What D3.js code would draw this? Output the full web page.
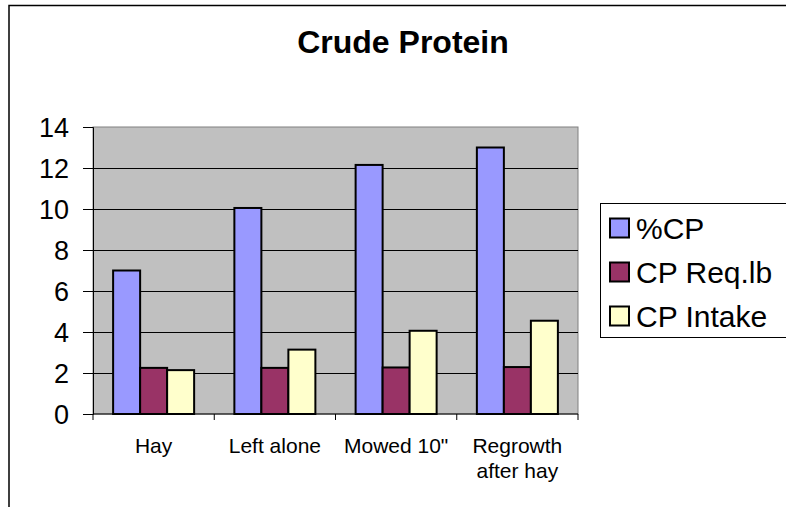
<!DOCTYPE html>
<html>
<head>
<meta charset="utf-8">
<script src="https://cdn.jsdelivr.net/npm/d3@7"></script>
<style>
  html, body { margin: 0; padding: 0; background: #fff; }
  svg { display: block; font-family: "Liberation Sans", Arial, sans-serif; }
</style>
</head>
<body>
<svg id="chart" width="786" height="507"></svg>
<script>
const categories = ["Hay", "Left alone", "Mowed 10\"", "Regrowth\nafter hay"];
const seriesNames = ["%CP", "CP Req.lb", "CP Intake"];
const pctCP = [7.0, 10.05, 12.15, 13.0];
const cpReq = [2.25, 2.25, 2.27, 2.29];
const cpIntake = [2.14, 3.14, 4.06, 4.55];
const seriesColors = ["#9999FF", "#993366", "#FFFFCC"];
const yTicks = [0, 2, 4, 6, 8, 10, 12, 14];

(function () {
const seriesValues = [pctCP, cpReq, cpIntake];
const svg = d3.select("#chart");

// outer chart border
svg.append("rect").attr("x", 9).attr("y", 5.5).attr("width", 820).attr("height", 540)
  .attr("fill", "#fff").attr("stroke", "#000").attr("stroke-width", 1.5);

// title
svg.append("text").attr("x", 403).attr("y", 53).attr("text-anchor", "middle")
  .attr("font-weight", "bold").attr("font-size", 32).text("Crude Protein");

const pL = 93, pR = 578, pT = 127, pB = 414;
const x0 = d3.scaleBand().domain(categories).range([pL, pR]).padding(0);
const x1 = d3.scaleBand().domain(seriesNames).range([0, x0.bandwidth()]).paddingInner(0).paddingOuter(0.745);
const y = d3.scaleLinear().domain([0, 14]).range([pB, pT]);

// plot background
svg.append("rect").attr("x", pL).attr("y", pT).attr("width", pR - pL).attr("height", pB - pT)
  .attr("fill", "#C0C0C0").attr("stroke", "#808080").attr("stroke-width", 1);

// gridlines
svg.append("g").selectAll("line").data(yTicks.filter(d => d > 0 && d < 14)).join("line")
  .attr("x1", pL).attr("x2", pR)
  .attr("y1", d => Math.round(y(d)) + 0.5).attr("y2", d => Math.round(y(d)) + 0.5)
  .attr("stroke", "#000").attr("stroke-width", 1);

// bars
const rows = categories.map((c, i) => ({ cat: c, vals: seriesNames.map((s, j) => ({ s, j, v: seriesValues[j][i] })) }));
const groups = svg.append("g").selectAll("g").data(rows).join("g")
  .attr("transform", d => `translate(${x0(d.cat)},0)`);
groups.selectAll("rect").data(d => d.vals).join("rect")
  .attr("x", d => x1(d.s)).attr("width", x1.bandwidth())
  .attr("y", d => y(d.v)).attr("height", d => pB - y(d.v))
  .attr("fill", d => seriesColors[d.j]).attr("stroke", "#000").attr("stroke-width", 2);

// y axis
const yAxis = svg.append("g").attr("transform", `translate(${pL},0)`)
  .call(d3.axisLeft(y).tickValues(yTicks).tickSize(10).tickPadding(14).tickFormat(d3.format("d")));
yAxis.select(".domain").attr("stroke", "#000");
yAxis.selectAll("line").attr("stroke", "#000");
yAxis.selectAll("text").attr("font-size", 27).attr("fill", "#000")
  .attr("font-family", "'Liberation Sans', Arial, sans-serif").attr("dy", "0.36em");

// x axis
const xAxis = svg.append("g").attr("transform", `translate(0,${pB})`);
xAxis.append("line").attr("x1", pL).attr("x2", pR).attr("y1", 0).attr("y2", 0).attr("stroke", "#000");
const tickXs = categories.map(c => x0(c)).concat([pR]);
xAxis.selectAll("line.tk").data(tickXs).join("line").attr("class", "tk")
  .attr("x1", d => d).attr("x2", d => d).attr("y1", 0).attr("y2", 6).attr("stroke", "#000");
const xl = xAxis.selectAll("text").data(categories).join("text")
  .attr("x", d => x0(d) + x0.bandwidth() / 2).attr("y", 39)
  .attr("text-anchor", "middle").attr("font-size", 21).attr("fill", "#000");
xl.each(function (d) {
  const lines = d.split("\n");
  d3.select(this).selectAll("tspan").data(lines).join("tspan")
    .attr("x", x0(d) + x0.bandwidth() / 2).attr("dy", (l, i) => i === 0 ? 0 : 25).text(l => l);
});

// legend
const lg = svg.append("g");
lg.append("rect").attr("x", 600.5).attr("y", 203.5).attr("width", 220).attr("height", 134)
  .attr("fill", "#fff").attr("stroke", "#000").attr("stroke-width", 1);
const items = lg.selectAll("g.it").data(seriesNames).join("g").attr("class", "it")
  .attr("transform", (d, i) => `translate(0,${228 + i * 44})`);
items.append("rect").attr("x", 610).attr("y", -9.5).attr("width", 19).attr("height", 19)
  .attr("fill", (d, i) => seriesColors[i]).attr("stroke", "#000").attr("stroke-width", 2);
items.append("text").attr("x", 636).attr("y", 0).attr("dy", "0.36em")
  .attr("font-size", 30).attr("fill", "#000").text(d => d);
})();
</script>
</body>
</html>
